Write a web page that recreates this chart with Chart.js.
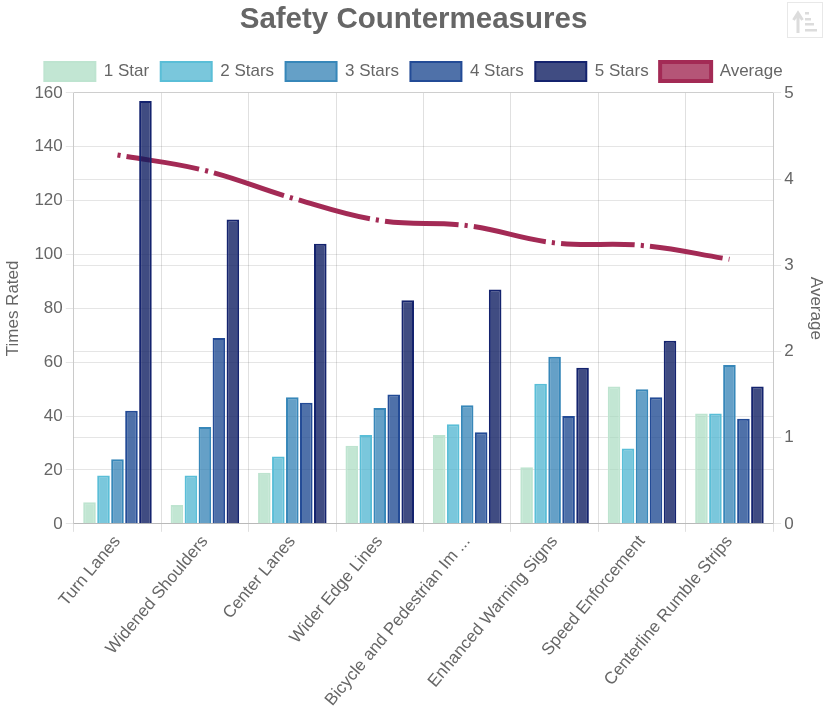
<!DOCTYPE html>
<html>
<head>
<meta charset="utf-8">
<style>
  html, body { margin: 0; padding: 0; background: #fff; }
  #wrap { position: relative; width: 827px; height: 710px; }
  #sortBtn { position: absolute; left: 787px; top: 2px; width: 36px; height: 36px; border: 1px solid #e8e8e8; box-sizing: border-box; }
</style>
<script src="https://cdn.jsdelivr.net/npm/chart.js@4"></script>
</head>
<body>
<div id="wrap">
  <canvas id="chart" width="827" height="710"></canvas>
  <div id="sortBtn">
    <svg width="34" height="34" viewBox="0 0 34 34">
      <path d="M10 30 V13 M5.5 17 L10 10 L14.5 17" stroke="#dcdcdc" stroke-width="3" fill="none"/>
      <rect x="17" y="9" width="4" height="2.5" fill="#dcdcdc"/>
      <rect x="17" y="15" width="6" height="2.5" fill="#dcdcdc"/>
      <rect x="17" y="20" width="9" height="2.5" fill="#dcdcdc"/>
      <rect x="17" y="26" width="12" height="2.5" fill="#dcdcdc"/>
    </svg>
  </div>
</div>
<script>
const categories = ['Turn Lanes', 'Widened Shoulders', 'Center Lanes', 'Wider Edge Lines',
  'Bicycle and Pedestrian Im ...', 'Enhanced Warning Signs', 'Speed Enforcement', 'Centerline Rumble Strips'];
const oneStar    = [8, 7, 19, 29, 33, 21, 51, 41];
const twoStars   = [18, 18, 25, 33, 37, 52, 28, 41];
const threeStars = [24, 36, 47, 43, 44, 62, 50, 59];
const fourStars  = [42, 69, 45, 48, 34, 40, 47, 39];
const fiveStars  = [157, 113, 104, 83, 87, 58, 68, 51];
const average    = [4.28, 4.10, 3.78, 3.52, 3.46, 3.26, 3.23, 3.07];

const textColor = '#666666';
const fontFamily = '"Liberation Sans", Arial, sans-serif';
const labelFont = { family: fontFamily, size: 17 };

function barSet(label, data, fill, stroke) {
  return { type: 'bar', label, data, backgroundColor: fill, borderColor: stroke, borderWidth: 2, yAxisID: 'yCount', order: 2 };
}

// Adds a little room between the legend row and the plot area
const legendSpacing = {
  id: 'legendSpacing',
  beforeInit(chart) {
    const fit = chart.legend.fit;
    chart.legend.fit = function () {
      fit.call(this);
      this.height += 2;
    };
  }
};

new Chart(document.getElementById('chart'), {
  plugins: [legendSpacing],
  data: {
    labels: categories,
    datasets: [
      barSet('1 Star', oneStar, 'rgba(161,217,187,0.65)', 'rgba(190,228,208,1)'),
      barSet('2 Stars', twoStars, 'rgba(65,175,205,0.7)', 'rgba(90,190,215,1)'),
      barSet('3 Stars', threeStars, 'rgba(35,120,175,0.7)', 'rgba(55,135,185,1)'),
      barSet('4 Stars', fourStars, 'rgba(20,65,140,0.75)', 'rgba(35,75,150,1)'),
      barSet('5 Stars', fiveStars, 'rgba(10,25,95,0.78)', 'rgba(20,35,110,1)'),
      {
        type: 'line', label: 'Average', data: average, yAxisID: 'yAverage', order: 3,
        borderColor: '#a32a55', backgroundColor: 'rgba(163,42,85,0.8)', borderWidth: 5,
        borderDash: [74, 6, 3, 6], borderDashOffset: 80, tension: 0.4, pointRadius: 0, fill: false
      }
    ]
  },
  options: {
    responsive: false,
    animation: false,
    layout: { padding: 0 },
    datasets: { bar: { categoryPercentage: 0.8, barPercentage: 0.9 } },
    plugins: {
      title: { display: true, text: 'Safety Countermeasures', color: textColor, font: { family: fontFamily, size: 29.5, weight: 'bold' }, padding: { top: 2, bottom: 13 } },
      legend: {
        position: 'top',
        labels: {
          color: textColor, boxWidth: 51, boxHeight: 19, padding: 11.5, font: labelFont,
          generateLabels(chart) {
            // Legend swatches keep a solid outline even for the dashed line series
            return Chart.defaults.plugins.legend.labels.generateLabels(chart).map(item => {
              item.lineDash = [];
              item.lineDashOffset = 0;
              if (item.text === 'Average') item.lineWidth = 4;
              return item;
            });
          }
        }
      },
      tooltip: { enabled: false }
    },
    scales: {
      x: {
        ticks: { color: textColor, font: labelFont, minRotation: 50, maxRotation: 50, autoSkip: false, padding: 0 },
        grid: { color: 'rgba(0,0,0,0.12)' }
      },
      yCount: {
        position: 'left', min: 0, max: 160,
        ticks: { stepSize: 20, color: textColor, font: labelFont },
        title: { display: true, text: 'Times Rated', color: textColor, font: labelFont, padding: { top: 3, bottom: 8 } },
        grid: { color: 'rgba(0,0,0,0.1)' }
      },
      yAverage: {
        position: 'right', min: 0, max: 5,
        ticks: { stepSize: 1, color: textColor, font: labelFont },
        title: { display: true, text: 'Average', color: textColor, font: labelFont, padding: { top: 1, bottom: 9 } },
        grid: { color: 'rgba(0,0,0,0.1)' }
      }
    }
  }
});
</script>
</body>
</html>
